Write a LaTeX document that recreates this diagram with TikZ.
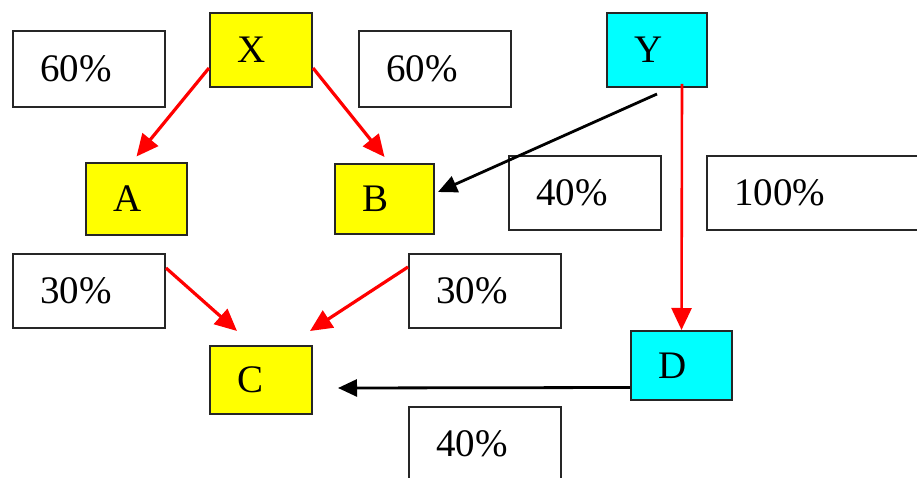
\documentclass[tikz,border=0pt]{standalone}
\usepackage{fontspec}
\setmainfont{Liberation Serif}
\usepackage{tikz}
\usetikzlibrary{calc, arrows.meta}

\definecolor{boxyellow}{RGB}{255,255,0}
\definecolor{boxcyan}{RGB}{0,255,255}
\definecolor{arrowred}{RGB}{255,0,0}

\tikzset{
    letbox/.style={draw=black!85, line width=2pt, rectangle, text width=48pt,
        align=left, inner xsep=27pt, inner ysep=0pt, minimum height=70pt},
    pctbox/.style={draw=black!85, line width=2pt, rectangle, fill=white, text width=98pt,
        align=left, inner xsep=27pt, inner ysep=0pt, minimum height=74pt},
    redarrow/.style={draw=arrowred, line width=3.2pt, -{Triangle[length=22pt,width=20pt]}},
    blkarrow/.style={draw=black, line width=2.8pt, -{Triangle[length=19pt,width=17pt]}}
}

\begin{document}
\begin{tikzpicture}[x=1pt, y=-1pt, font=\fontsize{39}{46}\selectfont]
    \useasboundingbox (0,0) rectangle (917,478);
    \clip (0,0) rectangle (917,478);

    \node[letbox, fill=boxyellow, minimum height=74pt] (X) at (261,50) {X};
    \node[letbox, fill=boxcyan, text width=46pt, minimum height=74pt] (Y) at (657,50) {Y};
    \node[letbox, fill=boxyellow, text width=47pt, minimum height=71pt] (A) at (136.5,199) {A};
    \node[letbox, fill=boxyellow, text width=45pt] (B) at (384.5,199) {B};
    \node[letbox, fill=boxyellow, minimum height=68pt] (C) at (261,380) {C};
    \node[letbox, fill=boxcyan, text width=47pt, minimum height=69pt] (D) at (681.5,365.5) {D};

    \node[pctbox, minimum height=76pt] (pXA) at (89,69) {60\%};
    \node[pctbox, minimum height=76pt] (pXB) at (435,69) {60\%};
    \node[pctbox] (pYB) at (585,193) {40\%};
    \node[pctbox, text width=206pt] (pYD) at (837,193) {100\%};
    \node[pctbox] (pAC) at (89,291) {30\%};
    \node[pctbox] (pBC) at (485,291) {30\%};
    \node[pctbox] (pDC) at (485,444) {40\%};

    \draw[redarrow] ([yshift=-18pt]X.west) -- ([yshift=6pt]A.north);
    \draw[redarrow] ([yshift=-18pt]X.east) -- ([yshift=6pt]B.north);
    \draw[blkarrow] ([yshift=-6pt]Y.south) -- ([xshift=3pt,yshift=7pt]B.east);
    \draw[redarrow, line width=2.6pt] ([xshift=25pt,yshift=4pt]Y.south) -- (D.north);
    \draw[redarrow] ([yshift=23pt]pAC.east) -- ([xshift=-24pt,yshift=14pt]C.north);
    \draw[redarrow] ([yshift=24pt]pBC.west) -- ([xshift=49pt,yshift=14pt]C.north);
    \draw[blkarrow] ([yshift=-22pt]D.west) -- ([xshift=25pt,yshift=-8pt]C.east);
\end{tikzpicture}
\end{document}
